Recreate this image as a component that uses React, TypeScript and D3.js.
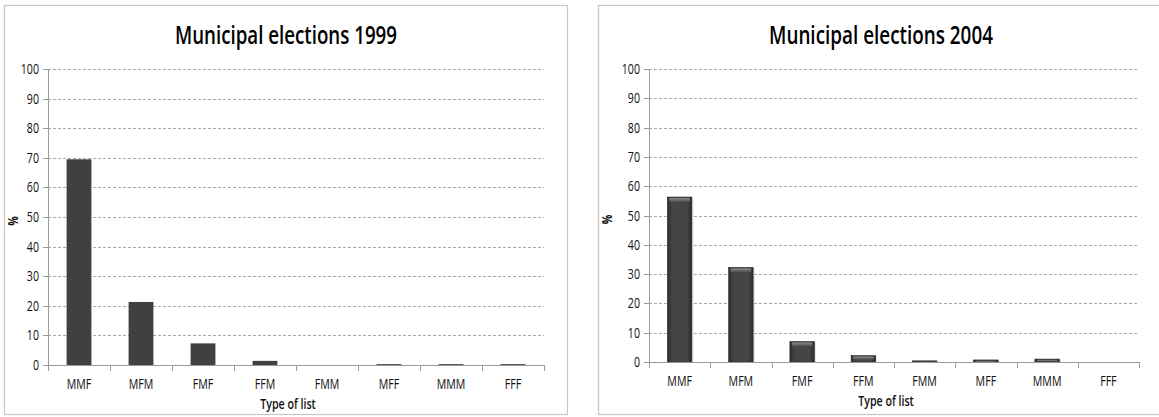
import React from 'react';
import * as d3 from 'd3';

const categories = ['MMF', 'MFM', 'FMF', 'FFM', 'FMM', 'MFF', 'MMM', 'FFF'];
const values1999 = [69.5, 21.3, 7.3, 1.4, 0, 0.3, 0.3, 0.3];
const values2004 = [56.3, 32.3, 7.0, 2.2, 0.4, 0.7, 1.0, 0];
const yTicks = [0, 10, 20, 30, 40, 50, 60, 70, 80, 90, 100];

const FONT = '"Open Sans", "Noto Sans", sans-serif';
const SX = 0.76; // the source picture is squeezed horizontally

type Panel = {
  id: string;
  title: string;
  values: number[];
  box: { x: number; y: number; w: number; h: number };
  plot: { left: number; right: number; top: number; bottom: number };
  titleX: number;
  titleWidth: number;
  beveled: boolean;
};

const panels: Panel[] = [
  {
    id: 'p1999',
    title: 'Municipal elections 1999',
    values: values1999,
    box: { x: 4.5, y: 5.5, w: 563, h: 409 },
    plot: { left: 48, right: 544, top: 69, bottom: 365 },
    titleX: 286,
    titleWidth: 222,
    beveled: false,
  },
  {
    id: 'p2004',
    title: 'Municipal elections 2004',
    values: values2004,
    box: { x: 598.5, y: 5.5, w: 600, h: 409 },
    plot: { left: 649, right: 1139, top: 69, bottom: 362 },
    titleX: 881,
    titleWidth: 224,
    beveled: true,
  },
];

// squeezed text helper
const SText: React.FC<{
  x: number;
  y: number;
  size: number;
  anchor?: 'start' | 'middle' | 'end';
  weight?: number;
  rotate?: number;
  children: React.ReactNode;
}> = ({ x, y, size, anchor = 'middle', weight = 400, rotate = 0, children }) => (
  <text
    transform={`translate(${x},${y}) rotate(${rotate}) scale(${SX},1)`}
    textAnchor={anchor}
    fontSize={size}
    fontWeight={weight}
    fontFamily={FONT}
    fill="#111"
  >
    {children}
  </text>
);

const ChartPanel: React.FC<{ p: Panel }> = ({ p }) => {
  const { plot } = p;
  const x = d3.scaleBand<string>()
    .domain(categories)
    .range([plot.left, plot.right])
    .paddingInner(0.6)
    .paddingOuter(0.3);
  const y = d3.scaleLinear().domain([0, 100]).range([plot.bottom, plot.top]);
  const step = x.step();
  const bounds = d3.range(categories.length + 1).map(i => plot.left + i * step);
  const midX = (plot.left + plot.right) / 2;

  return (
    <g>
      {/* chart area border */}
      <rect x={p.box.x} y={p.box.y} width={p.box.w} height={p.box.h} fill="#fff" stroke="#c6c6c6" strokeWidth={1.2} />

      <text
        x={p.titleX}
        y={44}
        textAnchor="middle"
        fontSize={25}
        fontWeight={600}
        fontFamily={FONT}
        textLength={p.titleWidth}
        lengthAdjust="spacingAndGlyphs"
        fill="#000"
      >
        {p.title}
      </text>

      {/* gridlines */}
      {yTicks.filter(t => t > 0).map(t => (
        <line key={t} x1={plot.left} x2={plot.right} y1={Math.round(y(t)) + 0.5} y2={Math.round(y(t)) + 0.5}
          stroke="#a8a8a8" strokeWidth={1} strokeDasharray="3,2" />
      ))}

      {/* y ticks + labels */}
      {yTicks.map(t => (
        <g key={t}>
          <line x1={plot.left - 5} x2={plot.left} y1={Math.round(y(t)) + 0.5} y2={Math.round(y(t)) + 0.5} stroke="#9a9a9a" />
          <SText x={plot.left - 9} y={y(t) + 5} size={14} anchor="end">{t}</SText>
        </g>
      ))}

      {/* bars */}
      {p.values.map((v, i) => {
        const bx = x(categories[i]) as number;
        const bw = x.bandwidth();
        const by = y(v);
        const bh = plot.bottom - by;
        if (bh <= 0) return null;
        if (!p.beveled) {
          return <rect key={i} x={bx} y={by} width={bw} height={bh} fill="#404040" />;
        }
        const bev = Math.min(4, bh / 2);
        return (
          <g key={i}>
            <rect x={bx + 1.5} y={by + 1} width={bw} height={bh} fill="#d0d0d0" opacity={0.6} />
            <rect x={bx} y={by} width={bw} height={bh} fill={`url(#${p.id}-bar)`} stroke="#2a2a2a" strokeWidth={0.6} />
            <rect x={bx + 2} y={by + 1} width={bw - 4} height={bev} fill={`url(#${p.id}-top)`} />
          </g>
        );
      })}

      {/* axes */}
      <line x1={plot.left + 0.5} x2={plot.left + 0.5} y1={plot.top} y2={plot.bottom} stroke="#9a9a9a" />
      <line x1={plot.left} x2={plot.right} y1={plot.bottom + 0.5} y2={plot.bottom + 0.5} stroke="#9a9a9a" />
      {bounds.map((b, i) => (
        <line key={i} x1={Math.round(b) + 0.5} x2={Math.round(b) + 0.5} y1={plot.bottom} y2={plot.bottom + 6} stroke="#9a9a9a" />
      ))}

      {categories.map(c => (
        <SText key={c} x={(x(c) as number) + x.bandwidth() / 2} y={plot.bottom + 24} size={14}>{c}</SText>
      ))}

      <SText x={midX - 8} y={plot.bottom + 44} size={14} weight={600}>Type of list</SText>
      <SText x={p.box.x + 13} y={(plot.top + plot.bottom) / 2 + 4} size={14} weight={700} rotate={-90}>%</SText>
    </g>
  );
};

const App: React.FC = () => (
  <svg width={1159} height={417} style={{ position: 'absolute', left: 0, top: 0, background: '#fff' }}>
    <defs>
      {panels.map(p => (
        <React.Fragment key={p.id}>
          <linearGradient id={`${p.id}-bar`} x1="0" x2="1" y1="0" y2="0">
            <stop offset="0" stopColor="#2c2c2c" />
            <stop offset="0.2" stopColor="#454545" />
            <stop offset="0.8" stopColor="#454545" />
            <stop offset="1" stopColor="#2c2c2c" />
          </linearGradient>
          <linearGradient id={`${p.id}-top`} x1="0" x2="0" y1="0" y2="1">
            <stop offset="0" stopColor="#8a8a8a" />
            <stop offset="1" stopColor="#4a4a4a" />
          </linearGradient>
        </React.Fragment>
      ))}
    </defs>
    {panels.map(p => <ChartPanel key={p.id} p={p} />)}
  </svg>
);

export default App;
